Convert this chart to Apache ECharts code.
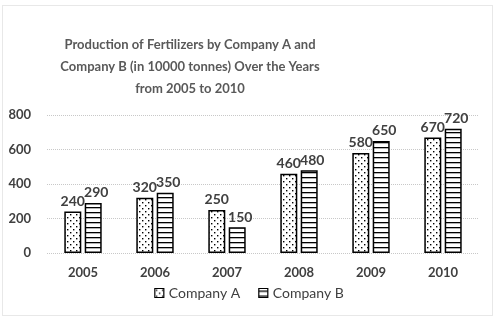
<!DOCTYPE html>
<html><head><meta charset="utf-8">
<script src="https://cdn.jsdelivr.net/npm/echarts@6/dist/echarts.min.js"></script>
<style>html,body{margin:0;padding:0;background:#fff}#c{width:498px;height:322px}</style>
</head><body><div id="c"></div>
<script>
const categories = ['2005','2006','2007','2008','2009','2010'];
const companyA = [240, 320, 250, 460, 580, 670];
const companyB = [290, 350, 150, 480, 650, 720];
const yTicks = [0, 200, 400, 600, 800];

function dotPattern(){
  const c = document.createElement('canvas'); c.width = 6; c.height = 6;
  const g = c.getContext('2d'); g.fillStyle = '#fff'; g.fillRect(0,0,6,6);
  g.fillStyle = '#000'; g.fillRect(1,1,1.4,1.4); g.fillRect(4,4,1.4,1.4);
  return c;
}
function linePattern(){
  const c = document.createElement('canvas'); c.width = 4; c.height = 5;
  const g = c.getContext('2d'); g.fillStyle = '#fff'; g.fillRect(0,0,4,5);
  g.fillStyle = '#000'; g.fillRect(0,2,4,1.3);
  return c;
}
const patA = {image: dotPattern(), repeat: 'repeat'};
const patB = {image: linePattern(), repeat: 'repeat'};
const font = 'Lato, "Open Sans", sans-serif';
const txt = '#404040';

const chart = echarts.init(document.getElementById('c'));
chart.setOption({
  animation: false,
  textStyle: {fontFamily: font},
  graphic: [{type: 'rect', shape: {x: 2.5, y: 5.5, width: 490, height: 310}, style: {fill: 'none', stroke: '#d0d0d0', lineWidth: 1, lineDash: [1,1]}, z: -1}],
  title: {
    text: 'Production of Fertilizers by Company A and\nCompany B (in 10000 tonnes) Over the Years\nfrom 2005 to 2010',
    left: 185, top: 29, textAlign: 'center',
    textStyle: {fontSize: 13, fontWeight: 'bold', color: '#595959', lineHeight: 22, fontFamily: font}
  },
  legend: {
    bottom: 17, left: 'center', itemWidth: 9, itemHeight: 9, itemGap: 18,
    textStyle: {fontSize: 14, color: txt, fontFamily: font},
    data: [
      {name: 'Company A', icon: 'rect', itemStyle: {color: patA, borderColor: '#000', borderWidth: 1.2}},
      {name: 'Company B', icon: 'rect', itemStyle: {color: patB, borderColor: '#000', borderWidth: 1.2}}
    ]
  },
  grid: {left: 47, right: 19, top: 115, bottom: 69},
  xAxis: {
    type: 'category', data: categories,
    axisLine: {show: false}, axisTick: {show: false},
    axisLabel: {fontSize: 13, fontWeight: 'bold', color: txt, margin: 13}
  },
  yAxis: {
    type: 'value', min: yTicks[0], max: yTicks[yTicks.length-1], interval: 200,
    axisLine: {show: false}, axisTick: {show: false},
    axisLabel: {fontSize: 13, fontWeight: 'bold', color: txt, margin: 16},
    splitLine: {lineStyle: {color: '#c8c8c8', type: [1,1]}}
  },
  series: [
    {name: 'Company A', type: 'bar', data: companyA, barWidth: 17, barGap: '20%',
     itemStyle: {color: patA, borderColor: '#000', borderWidth: 1.5},
     label: {show: true, position: 'top', fontSize: 14, fontWeight: 'bold', color: txt, distance: 3}},
    {name: 'Company B', type: 'bar', data: companyB, barWidth: 17,
     itemStyle: {color: patB, borderColor: '#000', borderWidth: 1.5},
     label: {show: true, position: 'top', fontSize: 14, fontWeight: 'bold', color: txt, distance: 3, offset: [3, 0]}}
  ]
});
</script></body></html>
